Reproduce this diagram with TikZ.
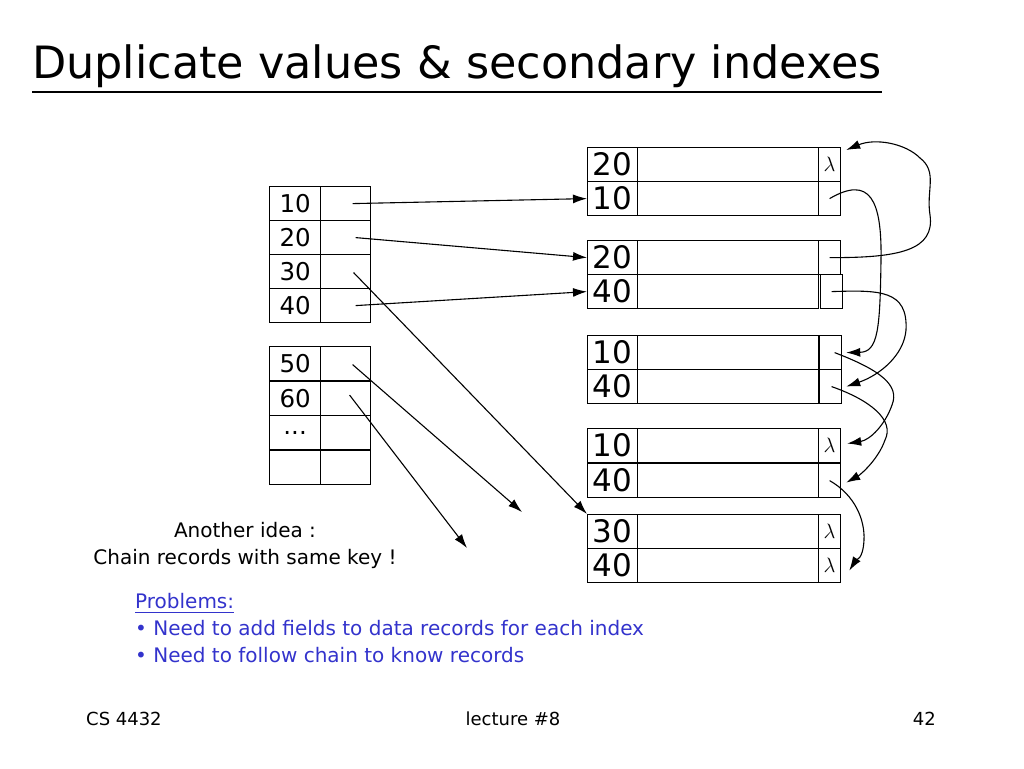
\documentclass[tikz,border=0pt]{standalone}
\usepackage{fontspec}
\setmainfont{DejaVu Sans}
\usetikzlibrary{arrows.meta}
\definecolor{pblue}{RGB}{51,51,204}
\begin{document}
\begin{tikzpicture}[x=1pt,y=-1pt,
 cell/.style={draw, line width=1.2pt, inner sep=0pt, anchor=north west, minimum height=34pt},
 ik/.style={cell, minimum width=51pt, font=\fontsize{24.5}{24.5}\selectfont},
 ip/.style={cell, minimum width=50pt},
 rk/.style={cell, minimum width=50pt, font=\fontsize{31}{31}\selectfont},
 rd/.style={cell, minimum width=181pt},
 rp/.style={cell, minimum width=22pt, font=\fontsize{20}{20}\selectfont},
 arr/.style={-{Latex[length=14pt,width=9pt]}, line width=1.1pt},
 txt/.style={inner sep=0pt, anchor=base west},
 ]
\useasboundingbox (0,0) rectangle (1024,768);

% title
\node[txt, font=\fontsize{44.5}{44.5}\selectfont] (title) at (32,78) {Duplicate values \& secondary indexes};
\draw[line width=2.5pt] ([yshift=-14pt]title.base west) -- ([yshift=-14pt]title.base east);

% index tables
\foreach \t/\y [count=\i] in {10/186,20/220,30/254,40/288}{
  \node[ik] (ik\i) at (269,\y) {\t};
  \node[ip] (ip\i) at (320,\y) {};
}
\foreach \t/\y [count=\i from 5] in {50/346,60/380.5,{...}/415,{}/449.5}{
  \node[ik] (ik\i) at (269,\y) {\t};
  \node[ip] (ip\i) at (320,\y) {};
}

% records
\foreach \k/\y/\px/\l [count=\i] in {20/147/818/$\lambda$, 10/181/818/{}, 20/240/818/{}, 40/274/820/{},
   10/335/819/{}, 40/369/819/{}, 10/428/818/$\lambda$, 40/463/818/{}, 30/514/818/$\lambda$, 40/548/818/$\lambda$}{
  \node[rk] (r\i) at (587,\y) {\k};
  \node[rd] (d\i) at (637,\y) {};
  \node[rp] (p\i) at (\px,\y) {\l};
}

% index pointers
\coordinate (e50) at (522,512);
\coordinate (e60) at (467,548);
\draw[arr] ([xshift=7pt]ip1.center) -- (r2.west);
\draw[arr] ([xshift=10pt]ip2.center) -- (r3.west);
\draw[arr] ([xshift=8pt,yshift=-1pt]ip3.center) -- (r9.north west);
\draw[arr] ([xshift=10pt]ip4.center) -- (r4.west);
\draw[arr] ([xshift=7pt,yshift=-1pt]ip5.center) -- (e50);
\draw[arr] ([xshift=4pt,yshift=3pt]ip6.center) -- (e60);

% chains
\draw[arr] (p3.center) .. controls (900,258) and (935,250) .. (930,215)
   .. controls (926,190) and (938,172) .. (920,158)
   .. controls (905,143) and (875,138) .. ([shift={(5,3)}]p1.north east);
\draw[arr] (p2.center) .. controls (870,175) and (882,200) .. (881,260)
   .. controls (880,330) and (878,352) .. ([xshift=4pt]p5.east);
\draw[arr] (p4.center) .. controls (880,290) and (908,290) .. (906,330)
   .. controls (904,355) and (880,375) .. ([xshift=4pt]p6.east);
\draw[arr] ([xshift=4pt]p5.center) .. controls (880,370) and (900,385) .. (892,405)
   .. controls (885,425) and (870,440) .. ([xshift=6pt,yshift=2pt]p7.east);
\draw[arr] ([xshift=1pt]p6.center) .. controls (870,400) and (895,420) .. (885,440)
   .. controls (878,460) and (860,475) .. ([xshift=5pt,yshift=-2pt]p8.east);
\draw[arr] (p8.center) .. controls (855,495) and (865,520) .. (864,540)
   .. controls (863,560) and (856,560) .. ([xshift=8pt,yshift=-5pt]p10.east);

% texts
\node[font=\fontsize{20}{27}\selectfont, align=center] (idea) at (245,545) {Another idea :\\Chain records with same key !};
\node[txt, text=pblue, font=\fontsize{20}{20}\selectfont] (prob) at (135,608) {Problems:};
\draw[pblue, line width=1pt] ([yshift=-4pt]prob.base west) -- ([yshift=-4pt]prob.base east);
\node[txt, text=pblue, font=\fontsize{20}{20}\selectfont] (b1) at (135,635) {• Need to add fields to data records for each index};
\node[txt, text=pblue, font=\fontsize{20}{20}\selectfont] (b2) at (135,662) {• Need to follow chain to know records};

% footer
\node[txt, font=\fontsize{18}{18}\selectfont] (f1) at (86,725) {CS 4432};
\node[inner sep=0pt, anchor=base, font=\fontsize{18}{18}\selectfont] (f2) at (513,725) {lecture \#8};
\node[inner sep=0pt, anchor=base east, font=\fontsize{18}{18}\selectfont] (f3) at (936,725) {42};
\end{tikzpicture}
\end{document}
